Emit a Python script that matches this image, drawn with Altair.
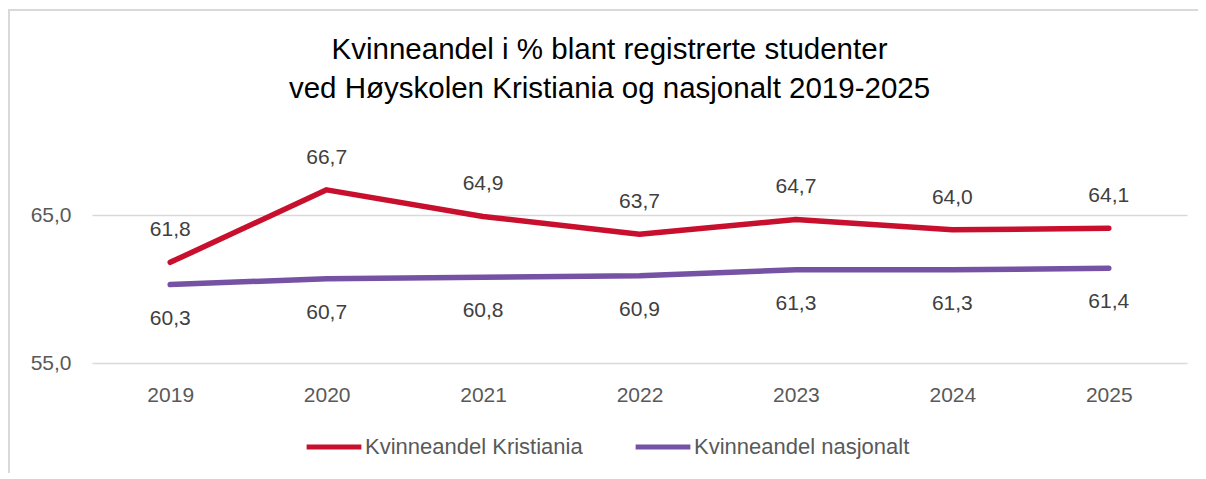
import altair as alt
import pandas as pd

years = ["2019", "2020", "2021", "2022", "2023", "2024", "2025"]
kristiania = [61.8, 66.7, 64.9, 63.7, 64.7, 64.0, 64.1]
nasjonalt = [60.3, 60.7, 60.8, 60.9, 61.3, 61.3, 61.4]
series_names = ["Kvinneandel Kristiania", "Kvinneandel nasjonalt"]
colors = ["#C8102E", "#7552A3"]
title_lines = ["Kvinneandel i % blant registrerte studenter",
               "ved Høyskolen Kristiania og nasjonalt 2019-2025"]

rows = []
for y, v in zip(years, kristiania):
    rows.append({"year": y, "value": v, "series": series_names[0],
                 "label": f"{v:.1f}".replace(".", ",")})
for y, v in zip(years, nasjonalt):
    rows.append({"year": y, "value": v, "series": series_names[1],
                 "label": f"{v:.1f}".replace(".", ",")})
df = pd.DataFrame(rows)

W, H = 1095, 222
SANS = "Liberation Sans, Arial, sans-serif"

x = alt.X("year:N", sort=years, title=None,
          scale=alt.Scale(paddingInner=0, paddingOuter=0.5),
          axis=alt.Axis(labelAngle=0, labelFontSize=21, labelColor="#595959",
                        labelFont=SANS, labelPadding=21, ticks=False,
                        domain=False, grid=False))
y = alt.Y("value:Q", title=None,
          scale=alt.Scale(domain=[55, 70], nice=False, zero=False),
          axis=alt.Axis(values=[55, 65], labelExpr="replace(format(datum.value, '.1f'), '.', ',')",
                        labelFontSize=21, labelColor="#595959", labelFont=SANS,
                        labelPadding=21, ticks=False, domain=False,
                        grid=True, gridColor="#D9D9D9", gridWidth=1.5))
color = alt.Color("series:N",
                  scale=alt.Scale(domain=series_names, range=colors),
                  legend=alt.Legend(title=None, orient="none", direction="horizontal",
                                    legendX=212, legendY=54 + H,
                                    symbolType="stroke", symbolStrokeWidth=5,
                                    symbolSize=3000, labelFontSize=22,
                                    labelFont=SANS, labelColor="#595959",
                                    labelLimit=0, columnPadding=42, labelOffset=1))

base = alt.Chart(df)
lines = base.mark_line(strokeWidth=5.5, strokeCap="round", strokeJoin="round").encode(
    x=x, y=y, color=color)

lab_k = base.transform_filter(alt.datum.series == series_names[0]).mark_text(
    dy=-32, fontSize=21, font=SANS, color="#404040").encode(
    x=alt.X("year:N", sort=years), y="value:Q", text="label:N")
lab_n = base.transform_filter(alt.datum.series == series_names[1]).mark_text(
    dy=34, fontSize=21, font=SANS, color="#404040").encode(
    x=alt.X("year:N", sort=years), y="value:Q", text="label:N")

frame_top = alt.Chart(pd.DataFrame({"a": [0]})).mark_rule(color="#D9D9D9", strokeWidth=2).encode(
    x=alt.value(-84), x2=alt.value(W + 11), y=alt.value(-131))
frame_left = alt.Chart(pd.DataFrame({"a": [0]})).mark_rule(color="#D9D9D9", strokeWidth=2).encode(
    x=alt.value(-83), y=alt.value(-131), y2=alt.value(H + 120))

chart = alt.layer(frame_top, frame_left, lines, lab_k, lab_n).properties(
    width=W, height=H,
    autosize=alt.AutoSizeParams(type="none"),
    padding={"left": 84, "top": 133, "right": 11, "bottom": 110},
    title=alt.TitleParams(text=title_lines, fontSize=29.5, font=SANS,
                          fontWeight="normal", color="#000000",
                          lineHeight=39, anchor="middle", dx=-30, offset=-95),
).configure(background="white").configure_view(stroke=None)

chart.save("out.html", embed_options={"renderer": "svg", "actions": False})
